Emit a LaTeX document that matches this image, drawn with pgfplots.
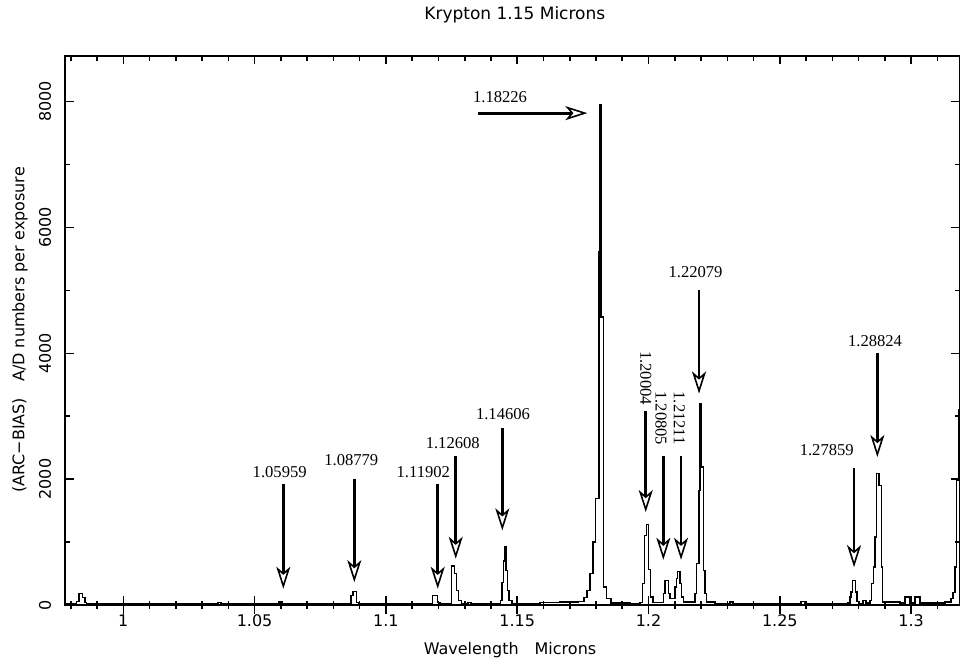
\documentclass[border=0pt]{standalone}
\usepackage{fontspec}
\setmainfont{DejaVu Sans}
\newfontfamily\anfont{Liberation Serif}
\usepackage{pgfplots}
\pgfplotsset{compat=1.18}
\usetikzlibrary{arrows.meta}

\pgfplotsset{
  kr/.style={
    at={(0,0)}, anchor=south west,
    width=447.5pt, height=274.65pt, scale only axis,
    xmin=0.9778, xmax=1.3186, ymin=0, ymax=8730,
    axis line style={line width=0.9pt},
    every tick/.style={line width=0.8pt, black},
    xtick={1,1.05,1.1,1.15,1.2,1.25,1.3},
    minor xtick={0.98,0.99,1.01,1.02,1.03,1.04,1.06,1.07,1.08,1.09,1.11,1.12,1.13,1.14,1.16,1.17,1.18,1.19,1.21,1.22,1.23,1.24,1.26,1.27,1.28,1.29,1.31},
    /pgf/number format/assume math mode=true,
    tick label style={font=\fontsize{8}{9}\selectfont},
  }
}

\begin{document}
\begin{tikzpicture}
\useasboundingbox (-32.5pt,-31.5pt) rectangle (447.5pt,302.5pt);

% top x ticks and both y ticks, pointing inwards
\begin{axis}[kr,
  xtick pos=top, ytick pos=both, yticklabel pos=left, tick align=inside,
  major tick length=4.3pt, minor tick length=2.5pt,
  ytick={0,2000,4000,6000,8000},
  minor ytick={1000,3000,5000,7000},
  xticklabels={},
  yticklabels={0,2000,4000,6000,8000},
  yticklabel style={anchor=center, xshift=-10pt, rotate=90}]
\end{axis}

\begin{axis}[kr,
  xtick pos=bottom, ytick=\empty,
  xtick align=center,
  major tick length=9pt, minor tick length=4pt,
  xticklabels={1,1.05,1.1,1.15,1.2,1.25,1.3},
  xticklabel style={anchor=center, yshift=-3.3pt},
  clip=true]

\addplot[const plot, black, line width=0.7pt] coordinates {
(0.9778,15) (0.98225,60) (0.98313,178) (0.98450,120) (0.98540,40) (0.98606,15)
(1.03492,15) (1.03606,40) (1.03720,15)
(1.05815,15) (1.05929,45) (1.06043,25) (1.06157,15)
(1.08557,15) (1.08671,150) (1.08747,215) (1.08888,40) (1.08976,15)
(1.11679,15) (1.11782,150) (1.11957,40) (1.12060,20)
(1.12403,20) (1.12498,617) (1.12612,500) (1.12688,230) (1.12764,70) (1.12879,25)
(1.13126,40) (1.13240,15)
(1.14269,20) (1.14364,70) (1.14421,360) (1.14478,700) (1.14516,920) (1.14573,550)
(1.14631,230) (1.14688,70) (1.14802,25)
(1.15868,35) (1.16630,45) (1.17315,60) (1.17544,120) (1.17658,230) (1.17773,500)
(1.17887,1000) (1.17991,1690) (1.18116,5615) (1.18150,7950) (1.18192,4580)
(1.18294,283) (1.18409,100) (1.18572,30) (1.19296,25)
(1.19676,40) (1.19764,342) (1.19840,1100) (1.19912,1281) (1.20000,560) (1.20084,124) (1.20171,40)
(1.20438,40) (1.20564,178) (1.20628,390) (1.20754,178) (1.20819,100)
(1.21009,283) (1.21074,417) (1.21112,533) (1.21200,337) (1.21264,124) (1.21333,50)
(1.21656,50) (1.21771,178) (1.21835,656) (1.21923,1822) (1.21961,3202) (1.22007,2193)
(1.22087,549) (1.22151,178) (1.22216,45) (1.22532,25)
(1.23104,45) (1.23218,20)
(1.25807,55) (1.25959,20)
(1.27600,30) (1.27676,124) (1.27714,205) (1.27761,390) (1.27883,205) (1.27940,60) (1.28016,20)
(1.28168,70) (1.28283,30)
(1.28435,70) (1.28500,337) (1.28561,602) (1.28625,1079) (1.28690,2088) (1.28778,1902)
(1.28865,602) (1.28919,45)
(1.29577,30) (1.29768,124) (1.29958,30) (1.30148,124) (1.30339,30)
(1.31291,45) (1.31519,100) (1.31595,200) (1.31671,602) (1.31736,1981) (1.31797,3096) (1.3200,3096)
};

% line identifications
\tikzset{lbl/.style={font=\anfont\fontsize{8.3}{9}\selectfont, inner sep=0pt},
         arr/.style={line width=1.4pt, -{Stealth[open, length=11pt, width=7pt, inset=3pt, line width=0.8pt]}}}
\node[lbl] at (axis cs:1.05956,2113) {1.05959};
\draw[arr] (axis cs:1.06093,1918) -- (axis cs:1.06093,258);
\node[lbl] at (axis cs:1.08682,2300) {1.08779};
\draw[arr] (axis cs:1.08797,2008) -- (axis cs:1.08797,363);
\node[lbl] at (axis cs:1.11424,2113) {1.11902};
\draw[arr] (axis cs:1.11973,1918) -- (axis cs:1.11973,258);
\node[lbl] at (axis cs:1.12544,2575) {1.12608};
\draw[arr] (axis cs:1.12658,2363) -- (axis cs:1.12658,735);
\node[lbl] at (axis cs:1.14459,3032) {1.14606};
\draw[arr] (axis cs:1.14433,2809) -- (axis cs:1.14433,1186);
\node[lbl] at (axis cs:1.14345,8077) {1.18226};
\draw[arr] (axis cs:1.13507,7817) -- (axis cs:1.17669,7817);
\node[lbl, rotate=-90] at (axis cs:1.19893,3605) {1.20004};
\draw[arr] (axis cs:1.19893,3080) -- (axis cs:1.19893,1477);
\node[lbl, rotate=-90] at (axis cs:1.20476,2968) {1.20805};
\draw[arr] (axis cs:1.20564,2363) -- (axis cs:1.20564,719);
\node[lbl, rotate=-90] at (axis cs:1.21173,2968) {1.21211};
\draw[arr] (axis cs:1.21238,2363) -- (axis cs:1.21238,719);
\node[lbl] at (axis cs:1.21790,5287) {1.22079};
\draw[arr] (axis cs:1.21923,5005) -- (axis cs:1.21923,3361);
\node[lbl] at (axis cs:1.26786,2459) {1.27859};
\draw[arr] (axis cs:1.27826,2184) -- (axis cs:1.27826,602);
\node[lbl] at (axis cs:1.28625,4198) {1.28824};
\draw[arr] (axis cs:1.28713,3998) -- (axis cs:1.28713,2352);
\end{axis}

\node[font=\fontsize{8.5}{10}\selectfont] at (224.9pt,295pt) {Krypton 1.15 Microns};
\node[font=\fontsize{8}{10}\selectfont] at (222.5pt,-22.5pt) {Wavelength\quad Microns};
\node[font=\fontsize{8}{10}\selectfont, rotate=90] at (-22.5pt,137.5pt) {(ARC−BIAS)\quad A/D numbers per exposure};
\end{tikzpicture}
\end{document}
